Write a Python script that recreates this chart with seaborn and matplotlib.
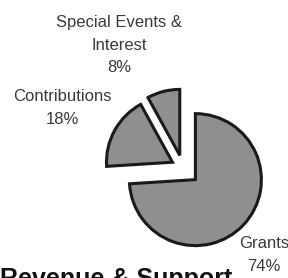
import matplotlib
matplotlib.use("Agg")
import matplotlib.pyplot as plt
import seaborn as sns

sns.set_style("white")
plt.rcParams["font.family"] = ["Liberation Sans Narrow", "Liberation Sans", "DejaVu Sans"]

# revenue shares, clockwise from the top
categories = ["Grants", "Contributions", "Special Events &\nInterest"]
shares = [74, 18, 8]
pct_labels = ["74%", "18%", "8%"]

W, H = 288, 278
R = 66
# explode offsets in axes units (pixels here), matplotlib doesn't scale them by radius
explode = [17, 12, 13]

fig = plt.figure(figsize=(W / 100, H / 100), dpi=100)
ax = fig.add_axes([0, 0, 1, 1])

wedges, _ = ax.pie(
    shares,
    explode=explode,
    startangle=90,
    counterclock=False,
    center=(183, H - 168),
    radius=R,
    colors=["#8f8f8f"] * len(shares),
    wedgeprops=dict(edgecolor="#1a1a1a", linewidth=2.2),
)
ax.set_xlim(0, W)
ax.set_ylim(0, H)
ax.set_aspect("equal")
ax.axis("off")

txt = dict(color="#3a3a3a", fontsize=12, ha="center", va="center", linespacing=1.65)
ax.text(119, H - 45, f"{categories[2]}\n{pct_labels[2]}", **txt)
ax.text(62, H - 108, f"{categories[1]}\n{pct_labels[1]}", **txt)
ax.text(264, H - 255, f"{categories[0]}\n{pct_labels[0]}", **txt)

ax.text(116, H - 267, "Revenue & Support", fontsize=18, fontweight="bold",
        family=["Liberation Sans", "DejaVu Sans"], ha="center", va="top", color="#111111")

fig.savefig("out.png", dpi=100)
